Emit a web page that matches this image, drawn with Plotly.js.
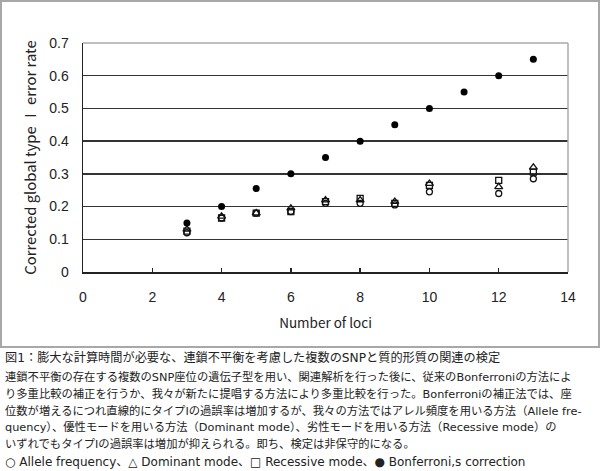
<!DOCTYPE html>
<html>
<head>
<meta charset="utf-8">
<script src="https://cdn.plot.ly/plotly-3.0.1.min.js"></script>
<style>
  html, body { margin: 0; padding: 0; background: #fff; width: 600px; height: 471px; overflow: hidden; }
  #chart { position: absolute; left: 0; top: 0; width: 600px; height: 348px; }
  #frame { position: absolute; left: 0; top: 0; width: 596px; height: 344px; border: 2px solid #a8a8a8; pointer-events: none; }
  #cap { position: absolute; left: 5px; top: 348px; width: 595px; font-family: "DejaVu Sans", "Noto Sans CJK JP", sans-serif; color: #222; white-space: nowrap; }
  #cap .t { font-size: 12.2px; line-height: 20px; margin-top: 0px; }
  #cap .b { font-size: 11.3px; line-height: 16.8px; margin-top: 2px; }
  #cap .l { font-size: 12px; line-height: 17px; }
</style>
</head>
<body>
<div id="chart"></div>
<div id="frame"></div>
<div id="cap">
  <div class="t">図1：膨大な計算時間が必要な、連鎖不平衡を考慮した複数のSNPと質的形質の関連の検定</div>
  <div class="b">連鎖不平衡の存在する複数のSNP座位の遺伝子型を用い、関連解析を行った後に、従来のBonferroniの方法によ<br>り多重比較の補正を行うか、我々が新たに提唱する方法により多重比較を行った。Bonferroniの補正法では、座<br>位数が増えるにつれ直線的にタイプIの過誤率は増加するが、我々の方法ではアレル頻度を用いる方法（Allele fre-<br>quency）、優性モードを用いる方法（Dominant mode）、劣性モードを用いる方法（Recessive mode）の<br>いずれでもタイプIの過誤率は増加が抑えられる。即ち、検定は非保守的になる。</div>
  <div class="l">○ Allele frequency、△ Dominant mode、□ Recessive mode、● Bonferroni,s correction</div>
</div>
<script>
const loci = [3, 4, 5, 6, 7, 8, 9, 10, 12, 13];
const alleleFreq = [0.12, 0.165, 0.18, 0.185, 0.21, 0.21, 0.205, 0.245, 0.24, 0.285];
const dominant   = [0.13, 0.17, 0.18, 0.195, 0.22, 0.22, 0.215, 0.27, 0.26, 0.32];
const recessive  = [0.125, 0.165, 0.18, 0.185, 0.215, 0.225, 0.21, 0.265, 0.28, 0.305];
const bonfLoci = [3, 4, 5, 6, 7, 8, 9, 10, 11, 12, 13];
const bonferroni = [0.15, 0.2, 0.255, 0.3, 0.35, 0.4, 0.45, 0.5, 0.55, 0.6, 0.65];
const xTicks = [0, 2, 4, 6, 8, 10, 12, 14];
const yTicks = [0, 0.1, 0.2, 0.3, 0.4, 0.5, 0.6, 0.7];
const yTickText = ['0', '0.1', '0.2', '0.3', '0.4', '0.5', '0.6', '0.7'];

const mk = (sym, size) => ({ symbol: sym, size: size, color: '#111', line: { color: '#111', width: 1.3 } });
const traces = [
  { x: loci, y: recessive, mode: 'markers', type: 'scatter', name: 'Recessive mode', marker: mk('square-open', 6) },
  { x: loci, y: dominant, mode: 'markers', type: 'scatter', name: 'Dominant mode', marker: mk('triangle-up-open', 7) },
  { x: loci, y: alleleFreq, mode: 'markers', type: 'scatter', name: 'Allele frequency', marker: mk('circle-open', 6) },
  { x: bonfLoci, y: bonferroni, mode: 'markers', type: 'scatter', name: "Bonferroni's correction", marker: { symbol: 'circle', size: 7, color: '#000' } }
];

const font = "Liberation Sans, Arial, sans-serif";
const layout = {
  width: 600, height: 348,
  margin: { l: 83, r: 32, t: 43, b: 76 },
  paper_bgcolor: 'rgba(0,0,0,0)', plot_bgcolor: '#fff',
  showlegend: false,
  font: { family: font, color: '#222', size: 14 },
  xaxis: {
    range: [0, 14], tickvals: xTicks, ticktext: xTicks.map(String),
    showgrid: false, zeroline: false,
    showline: true, linecolor: '#222', linewidth: 1.5,
    ticks: 'inside', ticklen: 4, tickcolor: '#222', tickwidth: 1.5,
    ticklabelstandoff: 12,
    tickfont: { family: font, size: 14, color: '#222' },
    title: { text: 'Number of loci', font: { family: "Noto Sans CJK JP, sans-serif", size: 13.5, color: '#222' }, standoff: 14 }
  },
  yaxis: {
    range: [0, 0.7], tickvals: yTicks, ticktext: yTickText,
    showgrid: true, gridcolor: '#333', gridwidth: 1.4,
    zeroline: false,
    showline: true, linecolor: '#222', linewidth: 1.5,
    ticks: '', ticklabelstandoff: 10,
    tickfont: { family: font, size: 14, color: '#222' },
    title: { text: 'Corrected global type Ⅰ error rate', font: { family: "Noto Sans CJK JP, sans-serif", size: 14.8, color: '#222' }, standoff: 9 }
  },
  shapes: [
    { type: 'line', xref: 'paper', yref: 'paper', x0: 0, x1: 1, y0: 1, y1: 1, line: { color: '#aaa', width: 1.5 }, layer: 'above' },
    { type: 'line', xref: 'paper', yref: 'paper', x0: 1, x1: 1, y0: 0, y1: 1, line: { color: '#aaa', width: 1.5 }, layer: 'above' }
  ]
};
Plotly.newPlot('chart', traces, layout, { displayModeBar: false, staticPlot: true });
</script>
</body>
</html>
